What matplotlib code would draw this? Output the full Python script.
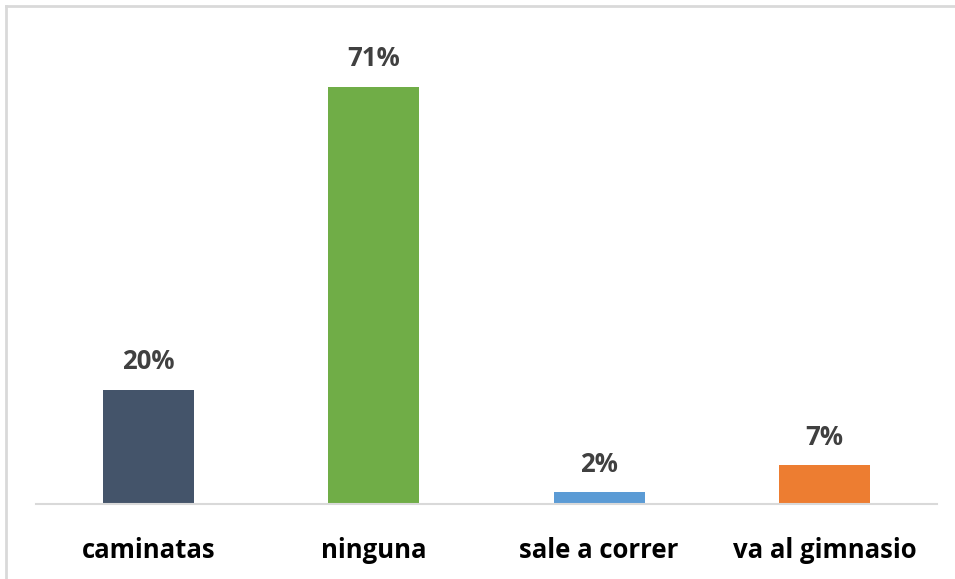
import matplotlib
matplotlib.use("Agg")
import matplotlib.pyplot as plt
from matplotlib.lines import Line2D

categories = ["caminatas", "ninguna", "sale a correr", "va al gimnasio"]
values = [19.4, 71.0, 2.0, 6.6]
value_labels = ["20%", "71%", "2%", "7%"]
colors = ["#44546a", "#70ad47", "#5b9bd5", "#ed7d31"]

plt.rcParams['font.family'] = ['Open Sans', 'DejaVu Sans']

fig = plt.figure(figsize=(9.55, 5.79), dpi=100)
ax = fig.add_axes([36 / 955, 75 / 579, 901 / 955, 470 / 579])

x = range(len(categories))
ax.bar(x, values, width=0.405, color=colors)

for i, (v, lab) in enumerate(zip(values, value_labels)):
    ax.annotate(lab, (i, v), xytext=(0, 10.5), textcoords="offset points",
                ha="center", va="bottom", fontsize=18.5, fontweight="bold",
                color="#404040")

ax.set_xlim(-0.5, 3.5)
ax.set_ylim(0, 80)
ax.set_yticks([])
ax.set_xticks(list(x))
ax.set_xticklabels(categories, fontsize=18.5, fontweight="bold", color="black")
ax.tick_params(axis="x", length=0, pad=23.5)
for s in ["top", "right", "left"]:
    ax.spines[s].set_visible(False)
ax.spines["bottom"].set_color("#d9d9d9")
ax.spines["bottom"].set_linewidth(1.5)

# chart frame (cut off on right and bottom in the original)
fig.add_artist(Line2D([6 / 955, 6 / 955], [0, 1 - 6 / 579], color="#d9d9d9", lw=2))
fig.add_artist(Line2D([6 / 955, 1], [1 - 6 / 579, 1 - 6 / 579], color="#d9d9d9", lw=2))

fig.savefig("out.png", dpi=100, facecolor="white")
